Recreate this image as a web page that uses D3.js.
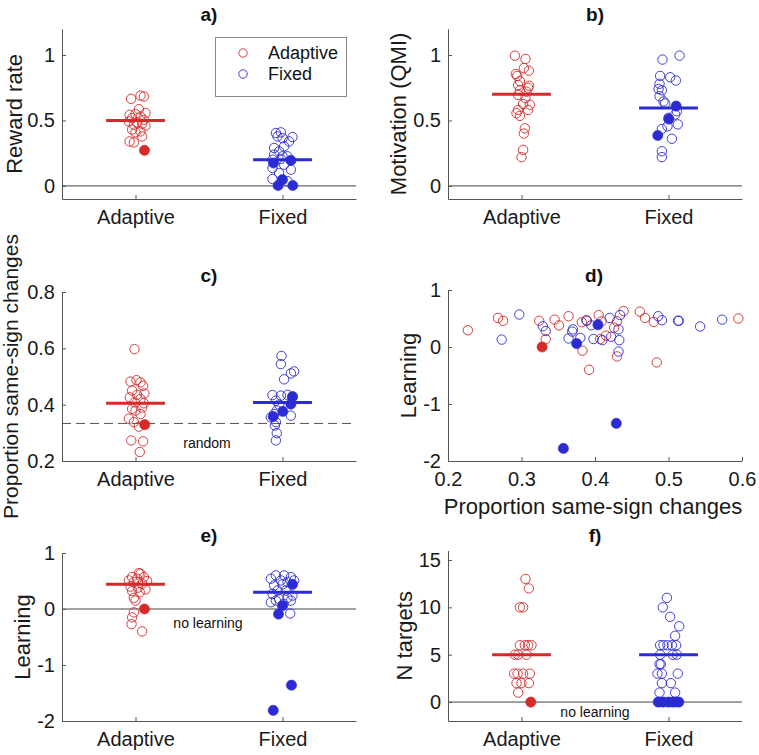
<!DOCTYPE html>
<html>
<head>
<meta charset="utf-8">
<script src="https://cdn.jsdelivr.net/npm/d3@7"></script>
<style>
  body { margin: 0; background: #fff; }
  svg { display: block; font-family: "Liberation Sans", Arial, Helvetica, sans-serif; }
</style>
</head>
<body>
<svg id="chart" width="759" height="755"></svg>
<script>
// ---------------- DATA ----------------
const categories = ["Adaptive", "Fixed"];
const groupNames = ["Adaptive", "Fixed"];

// each point: [value, horizontal jitter (category units)]
// Panel a: Reward rate
const rewardAdaptiveOpen = [[0.665,-0.03],[0.69,0.034],[0.683,0.057],[0.586,0.023],[0.543,-0.04],[0.556,0.068],[0.548,0],[0.53,0.034],[0.518,-0.023],[0.505,0.057],[0.492,-0.045],[0.485,0.011],[0.467,-0.011],[0.475,0.045],[0.46,0.068],[0.43,-0.023],[0.416,0.034],[0.409,0],[0.378,0.045],[0.34,-0.04],[0.332,-0.011]];
const rewardAdaptiveFilled = [[0.272,0.061]];
const rewardFixedOpen = [[0.404,-0.045],[0.409,-0.011],[0.378,-0.034],[0.365,0],[0.373,0.068],[0.29,-0.057],[0.302,0.011],[0.34,0.045],[0.264,-0.023],[0.239,-0.057],[0.226,0.034],[0.2,-0.068],[0.206,-0.011],[0.162,0.011],[0.137,-0.068],[0.124,0.057],[0.099,-0.023],[0.053,-0.068],[0.036,0.034],[0.226,0]];
const rewardFixedFilled = [[0.175,-0.061],[0.195,0.057],[0.048,0],[0.003,-0.03],[0.003,0.07]];
const rewardMeans = [0.50, 0.20];

// Panel b: Motivation (QMI)
const motivAdaptiveOpen = [[0.995,-0.045],[0.97,0.027],[0.90,0.016],[0.88,0.05],[0.855,-0.039],[0.84,-0.03],[0.80,-0.011],[0.77,-0.023],[0.765,0.052],[0.75,0.045],[0.73,-0.011],[0.72,0.034],[0.695,-0.023],[0.67,0.027],[0.625,0.011],[0.62,0.057],[0.58,0.045],[0.58,-0.023],[0.555,-0.034],[0.535,-0.011],[0.44,0.023],[0.40,0.016],[0.275,0.011],[0.22,0]];
const motivAdaptiveFilled = [];
const motivFixedOpen = [[0.995,0.075],[0.965,-0.041],[0.84,-0.057],[0.83,0.011],[0.805,0.05],[0.78,-0.061],[0.74,-0.068],[0.73,-0.045],[0.685,-0.061],[0.645,-0.034],[0.63,-0.023],[0.57,0.057],[0.545,0.045],[0.52,0],[0.455,-0.007],[0.47,0.063],[0.435,-0.045],[0.36,0.023],[0.265,-0.045],[0.22,-0.045]];
const motivFixedFilled = [[0.61,0.052],[0.51,0.002],[0.385,-0.073]];
const motivMeans = [0.70, 0.595];

// Panel c: Proportion same-sign changes
const sameAdaptiveOpen = [[0.597,-0.007],[0.482,-0.034],[0.487,0.007],[0.479,0.034],[0.467,0.052],[0.45,-0.023],[0.44,0.061],[0.435,0.011],[0.426,-0.039],[0.42,0.034],[0.408,-0.007],[0.405,0.057],[0.39,0.045],[0.385,-0.023],[0.379,0],[0.367,0.034],[0.35,-0.045],[0.338,-0.011],[0.322,0.023],[0.273,-0.029],[0.27,0.052],[0.232,0.029]];
const sameAdaptiveFilled = [[0.329,0.063]];
const sameFixedOpen = [[0.573,-0.007],[0.544,-0.011],[0.518,0.079],[0.511,0.057],[0.49,0.011],[0.434,-0.068],[0.432,-0.011],[0.435,0.034],[0.414,-0.045],[0.40,-0.023],[0.426,0.068],[0.379,-0.039],[0.367,-0.057],[0.355,-0.079],[0.361,0.057],[0.338,-0.045],[0.326,-0.052],[0.299,-0.039],[0.273,-0.045]];
const sameFixedFilled = [[0.429,0.068],[0.402,0.057],[0.376,0.002],[0.358,-0.063]];
const sameMeans = [0.405, 0.408];
const randomLevel = 1/3;

// Panel d: Learning vs proportion same-sign changes  [x, y]
const scatterAdaptiveOpen = [[0.227,0.294],[0.268,0.51],[0.275,0.46],[0.324,0.46],[0.333,0.14],[0.345,0.48],[0.351,0.38],[0.364,0.54],[0.382,0.435],[0.383,-0.065],[0.392,-0.40],[0.405,0.56],[0.409,0.45],[0.407,0.14],[0.415,0.20],[0.43,0.45],[0.426,0.34],[0.43,-0.165],[0.439,0.63],[0.461,0.62],[0.468,0.51],[0.48,0.44],[0.484,-0.27],[0.595,0.50],[0.388,0.47]];
const scatterAdaptiveFilled = [[0.328,0.0]];
const scatterFixedOpen = [[0.297,0.57],[0.273,0.13],[0.329,0.365],[0.333,0.28],[0.37,0.31],[0.369,0.27],[0.364,0.15],[0.38,0.16],[0.389,0.46],[0.395,0.38],[0.398,0.14],[0.41,0.12],[0.42,0.51],[0.422,0.18],[0.434,0.56],[0.432,0.31],[0.433,0.12],[0.432,-0.08],[0.486,0.54],[0.491,0.47],[0.514,0.46],[0.513,0.46],[0.543,0.36],[0.573,0.48]];
const scatterFixedFilled = [[0.404,0.39],[0.375,0.06],[0.429,-1.34],[0.357,-1.78]];

// Panel e: Learning
const learnAdaptiveOpen = [[0.64,0.023],[0.63,0.034],[0.57,-0.023],[0.54,0.011],[0.57,0.057],[0.51,-0.045],[0.50,0.079],[0.48,-0.011],[0.45,0.045],[0.40,-0.034],[0.38,0.016],[0.35,0.068],[0.32,-0.023],[0.30,0.029],[0.20,-0.011],[0.15,0],[-0.06,-0.011],[-0.15,-0.023],[-0.27,-0.027],[-0.40,0.045]];
const learnAdaptiveFilled = [[0.0,0.061]];
const learnFixedOpen = [[0.60,-0.045],[0.60,0.011],[0.57,0.057],[0.54,-0.079],[0.51,-0.011],[0.48,0.034],[0.51,0.079],[0.42,-0.057],[0.44,0],[0.33,-0.034],[0.33,0.023],[0.27,-0.068],[0.24,0.068],[0.18,-0.023],[0.20,0.034],[0.15,-0.045],[0.15,0.057],[0.12,-0.079],[0.09,0.007],[-0.08,0.052]];
const learnFixedFilled = [[0.44,0.068],[0.06,0],[-0.09,-0.027],[-1.36,0.061],[-1.81,-0.063]];
const learnMeans = [0.44, 0.30];

// Panel f: N targets
const targetsAdaptiveOpen = [[13,0.027],[12,0.05],[10,-0.011],[10,0.011],[6,-0.011],[6,0.023],[6,0.045],[6,0.068],[5,-0.045],[5,-0.023],[5,0.034],[3,-0.05],[3,-0.027],[3,0.011],[3,0.057],[2,-0.034],[2,0],[2,0.05],[1,-0.023]];
const targetsAdaptiveFilled = [[0,0.063]];
const targetsFixedOpen = [[11,-0.011],[10,-0.039],[9,0.011],[8,0.073],[7,0.045],[6,-0.057],[6,-0.034],[6,-0.007],[6,0.023],[6,0.052],[5,-0.057],[5,0.029],[5,0.057],[4,-0.052],[4,-0.061],[3,-0.075],[3,-0.045],[3,0.063],[2,-0.045],[2,0.016],[1,-0.061],[1,0.045],[0,-0.05],[0,0.02],[0,0.05]];
const targetsFixedFilled = [[0,-0.07],[0,-0.035],[0,0],[0,0.035],[0,0.07]];
const targetsMeans = [5, 5];

// ticks
const ticksRate = [0, 0.5, 1];
const ticksSame = [0.2, 0.4, 0.6, 0.8];
const ticksLearn = [-2, -1, 0, 1];
const ticksSameX = [0.2, 0.3, 0.4, 0.5, 0.6];
const ticksTargets = [0, 5, 10, 15];

// ---------------- STYLE / LAYOUT ----------------
const RED = "#d42a2a";
const BLUE = "#2b2bd4";
const AXIS = "#555";
const R = 4.7;
const TITLE_SIZE = "19px";
const svg = d3.select("#chart");
svg.append("rect").attr("width", 759).attr("height", 755).attr("fill", "#fff");

const W = 294;
const fmt = v => String(v);

function yAxis(g, y, ticks) {
  const ax = d3.axisLeft(y).tickValues(ticks).tickFormat(fmt).tickSizeInner(-4).tickSizeOuter(0).tickPadding(7);
  g.call(ax);
  g.select(".domain").attr("stroke", AXIS);
  g.selectAll(".tick line").attr("stroke", AXIS);
  g.selectAll(".tick text").attr("fill", "#1a1a1a").style("font-size", "20px").style("font-family", "inherit");
}
function xAxis(g, x, ticks, labels) {
  const ax = d3.axisBottom(x).tickValues(ticks).tickSizeInner(-4).tickSizeOuter(0).tickPadding(11)
    .tickFormat(labels ? ((d, i) => labels[i]) : fmt);
  g.call(ax);
  g.select(".domain").attr("stroke", AXIS);
  g.selectAll(".tick line").attr("stroke", AXIS);
  g.selectAll(".tick text").attr("fill", "#1a1a1a").style("font-size", "20px").style("font-family", "inherit");
}

function catPanel(cfg) {
  const {left, yDomain, yRange, ticks, title, ylabel, ylabelX, series, means, zeroLine} = cfg;
  const x = d3.scaleLinear().domain([0.5, 2.5]).range([left, left + W]);
  const y = d3.scaleLinear().domain(yDomain).range(yRange);
  const g = svg.append("g");
  if (zeroLine) {
    g.append("line").attr("x1", left).attr("x2", left + W).attr("y1", y(0)).attr("y2", y(0))
      .attr("stroke", "#444").attr("stroke-width", 1);
  }
  if (cfg.dashed !== undefined) {
    g.append("line").attr("x1", left).attr("x2", left + W).attr("y1", y(cfg.dashed)).attr("y2", y(cfg.dashed))
      .attr("stroke", "#555").attr("stroke-width", 1).attr("stroke-dasharray", "9,5");
  }
  series.forEach((s, gi) => {
    const col = gi === 0 ? RED : BLUE;
    g.append("g").selectAll("circle").data(s.open).join("circle")
      .attr("cx", d => x(gi + 1 + d[1])).attr("cy", d => y(d[0])).attr("r", R)
      .attr("fill", "none").attr("stroke", col).attr("stroke-width", 0.9);
    g.append("g").selectAll("circle").data(s.filled).join("circle")
      .attr("cx", d => x(gi + 1 + d[1])).attr("cy", d => y(d[0])).attr("r", R + 0.4)
      .attr("fill", col).attr("stroke", col).attr("stroke-width", 0.6);
  });
  means.forEach((m, gi) => {
    g.append("line").attr("x1", x(gi + 1 - 0.2)).attr("x2", x(gi + 1 + 0.2))
      .attr("y1", y(m)).attr("y2", y(m)).attr("stroke", gi === 0 ? RED : BLUE).attr("stroke-width", 3);
  });
  yAxis(g.append("g").attr("transform", `translate(${left},0)`), y, ticks);
  xAxis(g.append("g").attr("transform", `translate(0,${yRange[0]})`), x, [1, 2], categories);
  svg.append("text").attr("x", left + W / 2).attr("y", cfg.titleY).attr("text-anchor", "middle")
    .style("font-size", TITLE_SIZE).style("font-weight", "bold").attr("fill", "#111").text(title);
  svg.append("text").attr("transform", `translate(${ylabelX},${(yRange[0] + yRange[1]) / 2}) rotate(-90)`)
    .attr("text-anchor", "middle").attr("dy", "0.35em").style("font-size", cfg.ylabelSize || "22px")
    .attr("fill", "#1a1a1a").text(ylabel);
  return {x, y, g};
}

// Panel a
catPanel({left: 62, yDomain: [-0.1, 1.2], yRange: [199, 28.8], ticks: ticksRate, title: "a)", titleY: 21,
  ylabel: "Reward rate", ylabelX: 14, zeroLine: true,
  series: [{open: rewardAdaptiveOpen, filled: rewardAdaptiveFilled}, {open: rewardFixedOpen, filled: rewardFixedFilled}],
  means: rewardMeans});
// legend
(function () {
  const lg = svg.append("g");
  lg.append("rect").attr("x", 215.5).attr("y", 37.5).attr("width", 131).attr("height", 59)
    .attr("fill", "#fff").attr("stroke", "#888").attr("stroke-width", 1);
  groupNames.forEach((n, i) => {
    lg.append("circle").attr("cx", 243).attr("cy", 53 + i * 21).attr("r", 4.2)
      .attr("fill", "none").attr("stroke", i === 0 ? RED : BLUE).attr("stroke-width", 0.9);
    lg.append("text").attr("x", 268).attr("y", 53 + i * 21).attr("dy", "0.35em")
      .style("font-size", "18px").attr("fill", "#111").text(n);
  });
})();

// Panel b
catPanel({left: 448, yDomain: [-0.1, 1.2], yRange: [199, 28.8], ticks: ticksRate, title: "b)", titleY: 21,
  ylabel: "Motivation (QMI)", ylabelX: 398, zeroLine: true,
  series: [{open: motivAdaptiveOpen, filled: motivAdaptiveFilled}, {open: motivFixedOpen, filled: motivFixedFilled}],
  means: motivMeans});

// Panel c
catPanel({left: 62, yDomain: [0.2, 0.8], yRange: [461, 292], ticks: ticksSame, title: "c)", titleY: 282,
  ylabel: "Proportion same-sign changes", ylabelX: 11, ylabelSize: "21px", zeroLine: false, dashed: randomLevel,
  series: [{open: sameAdaptiveOpen, filled: sameAdaptiveFilled}, {open: sameFixedOpen, filled: sameFixedFilled}],
  means: sameMeans});
svg.append("text").attr("x", 207).attr("y", 443).attr("dy", "0.35em").attr("text-anchor", "middle")
  .style("font-size", "14px").attr("fill", "#111").text("random");

// Panel d (scatter)
(function () {
  const left = 448;
  const x = d3.scaleLinear().domain([0.2, 0.6]).range([left, left + W]);
  const y = d3.scaleLinear().domain([-2, 1]).range([461, 290]);
  const g = svg.append("g");
  const sets = [
    {d: scatterAdaptiveOpen, col: RED, filled: false},
    {d: scatterFixedOpen, col: BLUE, filled: false},
    {d: scatterAdaptiveFilled, col: RED, filled: true},
    {d: scatterFixedFilled, col: BLUE, filled: true}
  ];
  sets.forEach(s => {
    g.append("g").selectAll("circle").data(s.d).join("circle")
      .attr("cx", d => x(d[0])).attr("cy", d => y(d[1])).attr("r", s.filled ? R + 0.4 : R)
      .attr("fill", s.filled ? s.col : "none").attr("stroke", s.col).attr("stroke-width", s.filled ? 0.6 : 0.9);
  });
  yAxis(g.append("g").attr("transform", `translate(${left},0)`), y, ticksLearn);
  xAxis(g.append("g").attr("transform", `translate(0,461)`), x, ticksSameX, null);
  svg.append("text").attr("x", 594).attr("y", 282).attr("text-anchor", "middle")
    .style("font-size", TITLE_SIZE).style("font-weight", "bold").attr("fill", "#111").text("d)");
  svg.append("text").attr("transform", `translate(408,375.5) rotate(-90)`).attr("text-anchor", "middle")
    .attr("dy", "0.35em").style("font-size", "22px").attr("fill", "#1a1a1a").text("Learning");
  svg.append("text").attr("x", 593).attr("y", 514).attr("text-anchor", "middle")
    .style("font-size", "22px").attr("fill", "#1a1a1a").text("Proportion same-sign changes");
})();

// Panel e
catPanel({left: 62, yDomain: [-2, 1], yRange: [721, 553], ticks: ticksLearn, title: "e)", titleY: 542,
  ylabel: "Learning", ylabelX: 22, zeroLine: true,
  series: [{open: learnAdaptiveOpen, filled: learnAdaptiveFilled}, {open: learnFixedOpen, filled: learnFixedFilled}],
  means: learnMeans});
svg.append("text").attr("x", 208).attr("y", 623).attr("dy", "0.35em").attr("text-anchor", "middle")
  .style("font-size", "14px").attr("fill", "#111").text("no learning");

// Panel f
catPanel({left: 448, yDomain: [-2, 16], yRange: [721, 550.5], ticks: ticksTargets, title: "f)", titleY: 542,
  ylabel: "N targets", ylabelX: 404, zeroLine: true,
  series: [{open: targetsAdaptiveOpen, filled: targetsAdaptiveFilled}, {open: targetsFixedOpen, filled: targetsFixedFilled}],
  means: targetsMeans});
svg.append("text").attr("x", 595).attr("y", 712).attr("dy", "0.35em").attr("text-anchor", "middle")
  .style("font-size", "14px").attr("fill", "#111").text("no learning");
</script>
</body>
</html>
